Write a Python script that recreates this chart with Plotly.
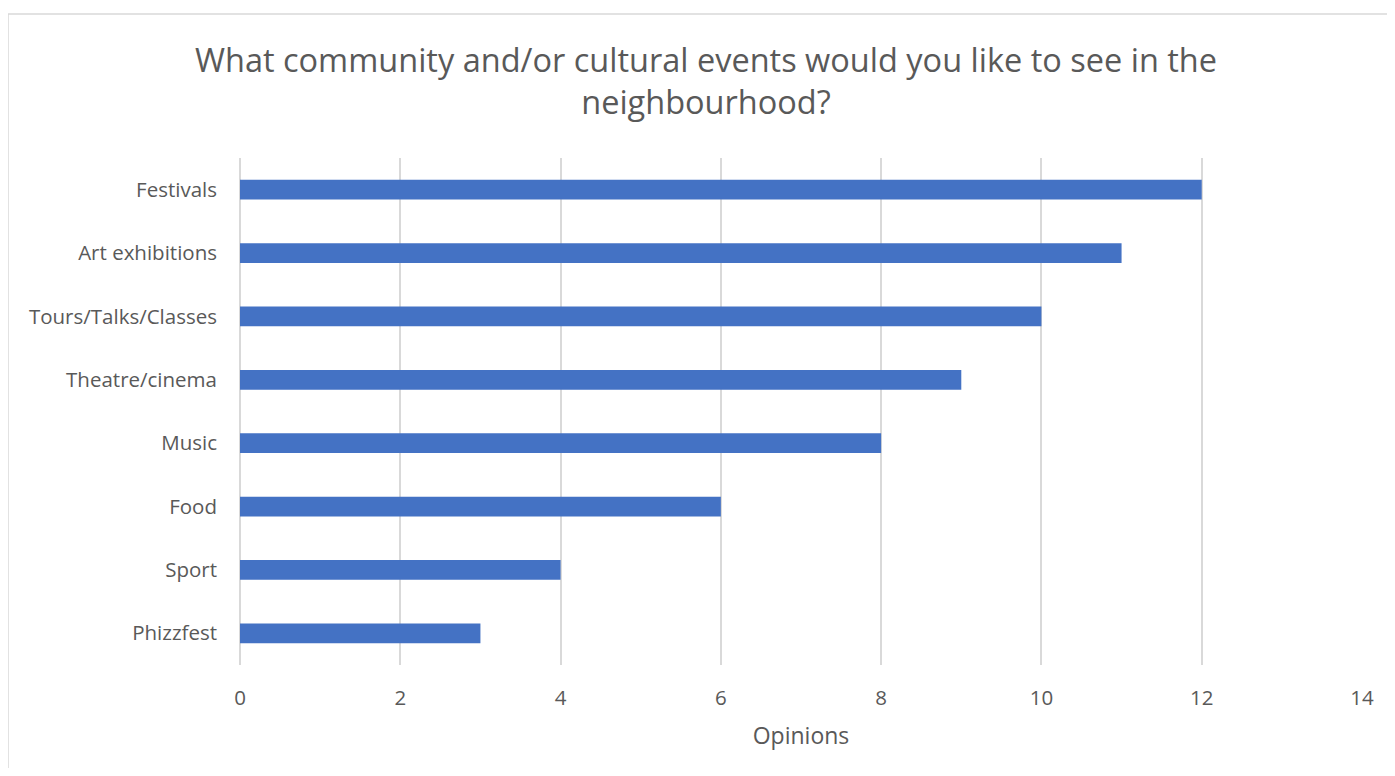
import plotly.graph_objects as go

categories = ["Festivals", "Art exhibitions", "Tours/Talks/Classes", "Theatre/cinema",
              "Music", "Food", "Sport", "Phizzfest"]
values = [12, 11, 10, 9, 8, 6, 4, 3]
x_ticks = [0, 2, 4, 6, 8, 10, 12, 14]

# page body has an 8px margin, so the figure origin sits at (8, 8) in the screenshot
OFF = 8
W, H = 1395 - 2 * OFF, 776 - 2 * OFF
L, R, T, B = 240 - OFF, 1362 - OFF, 158 - OFF, 665 - OFF

fig = go.Figure(go.Bar(
    x=values, y=categories, orientation="h",
    marker=dict(color="#4472C4", line=dict(width=0)),
    width=0.31,
))

def px_x(p):
    return (p - OFF - L) / (R - L)

def px_y(p):
    return (B - (p - OFF)) / (B - T)

font_family = "'Open Sans', Lato, sans-serif"
grey = "#595959"

fig.update_layout(
    width=W, height=H,
    margin=dict(l=L, r=W - R, t=T, b=H - B, pad=0),
    paper_bgcolor="white", plot_bgcolor="white",
    font=dict(family=font_family, color=grey),
    title=dict(
        text="What community and/or cultural events would you like to see in the<br>neighbourhood?",
        x=(706 - OFF) / W, xref="container", xanchor="center",
        y=1 - (72 - OFF) / H, yref="container", yanchor="middle",
        font=dict(size=32.5, color=grey, family=font_family),
    ),
    showlegend=False,
    xaxis=dict(
        range=[0, 14], tickvals=x_ticks, ticktext=[str(v) for v in x_ticks],
        showgrid=True, gridcolor="#d9d9d9", gridwidth=1.5,
        zeroline=True, zerolinecolor="#d9d9d9", zerolinewidth=1.5,
        showline=False, ticks="", ticklabelstandoff=18,
        tickfont=dict(size=20.5, color=grey),
        title=dict(text="Opinions", font=dict(size=23, color=grey), standoff=18),
    ),
    yaxis=dict(
        categoryorder="array", categoryarray=categories[::-1],
        showgrid=False, showline=False, ticks="", ticklabelstandoff=22,
        tickfont=dict(size=20.5, color=grey),
    ),
    shapes=[dict(
        type="rect", xref="paper", yref="paper",
        x0=px_x(8), x1=px_x(1420), y0=px_y(800), y1=px_y(14),
        line=dict(color="#d9d9d9", width=1.5), fillcolor="rgba(0,0,0,0)",
        layer="below",
    )],
)

fig.write_html("out.html")
